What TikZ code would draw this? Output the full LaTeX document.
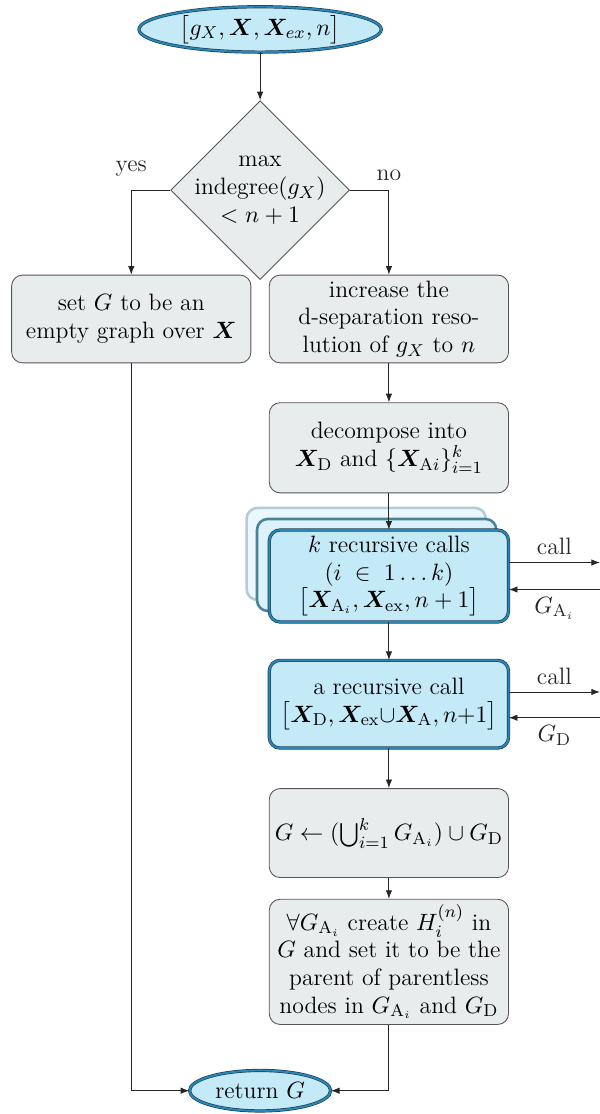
\documentclass[tikz,border=0pt]{standalone}
\usepackage{amsmath}
\usepackage{amssymb}
\usepackage{bm}
\usepackage{xcolor}
\usepackage{tikz}
\definecolor{callfill}{RGB}{196,234,248}
\definecolor{callline}{RGB}{40,135,180}
\definecolor{callouter}{RGB}{30,60,85}
\definecolor{boxfill}{RGB}{233,236,237}
\definecolor{boxline}{RGB}{85,85,85}
\definecolor{shadeline}{RGB}{75,130,155}
\usetikzlibrary{arrows.meta, shapes.geometric, positioning, calc}

\begin{document}
\begin{tikzpicture}[
    font=\fontsize{11}{12.8}\selectfont,
    box/.style={rectangle, rounded corners=5pt, draw=boxline, fill=boxfill,
                minimum width=3.9cm, minimum height=1.43cm,
                align=center, inner sep=2pt},
    callbox/.style={box, draw=callouter, fill=callfill, line width=0.3pt,
                double=callline, double distance=0.9pt},
    shadebox/.style={rectangle, rounded corners=5pt, line width=1.2pt,
                minimum width=3.9cm, minimum height=1.5cm},
    terminal/.style={ellipse, draw=callouter, fill=callfill, line width=0.3pt,
                double=callline, double distance=0.9pt, inner sep=0pt},
    decision/.style={diamond, draw=boxline, fill=boxfill, align=center,
                inner sep=-2.3pt, aspect=1},
    arr/.style={-{Latex[length=4pt,width=3pt]}, color=black!85},
    lbl/.style={}
]
    \useasboundingbox (0,0) rectangle (9.78,-18.16);

    \node[terminal, minimum width=3.95cm, minimum height=0.74cm] (start) at (4.24,-0.48)
        {$\bigl[g_X, \bm{X}, \bm{X}_{ex}, n\bigr]$};
    \node[decision] (dec) at (4.24,-3.10)
        {max\\ indegree$(g_X)$\\ $<n+1$};
    \node[box] (setg) at (2.14,-5.20)
        {set $G$ to be an\\ empty graph over $\bm{X}$};
    \node[box] (incr) at (6.34,-5.20)
        {increase the\\ d-separation reso-\\ lution of $g_X$ to $n$};
    \node[box, minimum height=1.47cm] (decomp) at (6.34,-7.30)
        {decompose into\\ $\bm{X}_{\mathrm{D}}$ and $\{\bm{X}_{\mathrm{A}i}\}_{i=1}^{k}$};

    % stacked copies behind the recursive calls
    \node[shadebox, draw=shadeline!45, fill=callfill!35, draw opacity=0.9] (back2) at (5.97,-9.03) {};
    \node[shadebox, draw=shadeline, fill=callfill!60] (back1) at (6.14,-9.21) {};
    \node[callbox, minimum height=1.5cm] (krec) at (6.34,-9.39)
        {$k$ recursive calls\\ $(i \;\in\; 1\ldots k)$\\
         $\bigl[\bm{X}_{\mathrm{A}_i}, \bm{X}_{\mathrm{ex}}, n+1\bigr]$};
    \node[callbox] (arec) at (6.34,-11.48)
        {a recursive call\\
         $\bigl[\bm{X}_{\mathrm{D}}, \bm{X}_{\mathrm{ex}}{\cup}\bm{X}_{\mathrm{A}}, n{+}1\bigr]$};
    \node[box, minimum height=1.45cm] (union) at (6.34,-13.58)
        {$G \leftarrow (\bigcup_{i=1}^{k} G_{\mathrm{A}_i}) \cup G_{\mathrm{D}}$};
    \node[box, minimum height=2.04cm] (forall) at (6.34,-15.68)
        {$\forall G_{\mathrm{A}_i}$ create $H_i^{(n)}$ in\\
         $G$ and set it to be the\\ parent of parentless\\
         nodes in $G_{\mathrm{A}_i}$ and $G_{\mathrm{D}}$};
    \node[terminal, minimum width=2.3cm, minimum height=0.66cm] (ret) at (4.24,-17.78)
        {return $G$};

    \coordinate (kout) at (9.78,-9.17);
    \coordinate (kin) at (9.78,-9.61);
    \coordinate (aout) at (9.78,-11.28);
    \coordinate (ain) at (9.78,-11.70);

    \draw[arr] (start) -- (dec);
    \draw[arr] (dec.west) -| node[lbl, above=3pt] {yes} (setg.north);
    \draw[arr] (dec.east) -| node[lbl, above=1pt] {no} (incr.north);
    \draw[arr] (incr) -- (decomp);
    \draw[arr] (decomp) -- (krec);
    \draw[arr] (krec) -- (arec);
    \draw[arr] (arec) -- (union);
    \draw[arr] (union) -- (forall);
    \draw[arr] (setg.south) |- (ret.west);
    \draw[arr] (forall.south) |- (ret.east);

    \draw[arr] (krec.east |- kout) -- node[lbl, above] {call} (kout);
    \draw[arr] (kin) -- node[lbl, below] {$G_{\mathrm{A}_i}$} (krec.east |- kin);
    \draw[arr] (arec.east |- aout) -- node[lbl, above] {call} (aout);
    \draw[arr] (ain) -- node[lbl, below] {$G_{\mathrm{D}}$} (arec.east |- ain);
\end{tikzpicture}
\end{document}
